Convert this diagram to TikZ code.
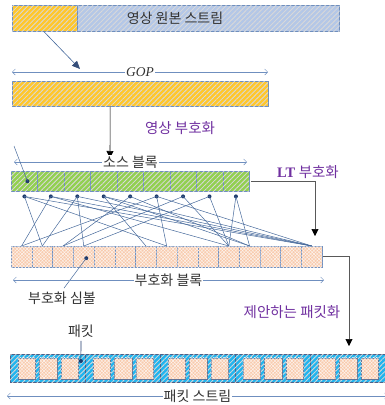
\documentclass[tikz,border=0pt]{standalone}
\usepackage{fontspec}
\setmainfont{Liberation Serif}
\newfontfamily\krfont{Noto Sans CJK KR}
\usetikzlibrary{arrows.meta,patterns.meta}
\definecolor{bordblue}{HTML}{6F8FBF}
\definecolor{linkblue}{HTML}{46699B}
\definecolor{dotnavy}{HTML}{1F3A6B}
\definecolor{gopyellow}{HTML}{FFC72C}
\definecolor{srcblue}{HTML}{B4C7E7}
\definecolor{lgreen}{HTML}{92D050}
\definecolor{lorange}{HTML}{F8CBAD}
\definecolor{pcyan}{HTML}{22B4EE}
\definecolor{kpurple}{HTML}{7030A0}
\tikzstyle{hatch} = [postaction={pattern={Lines[angle=45,distance=3.5pt,line width=0.8pt]}, pattern color=white!85!black}]
\tikzstyle{yellowbox} = [draw=bordblue, fill=gopyellow, hatch, anchor=north west, inner sep=0pt]
\tikzstyle{bluebox} = [draw=bordblue, fill=srcblue, hatch, anchor=north west, inner sep=0pt]
\tikzstyle{greencell} = [draw=bordblue, fill=lgreen, hatch, anchor=north west, minimum width=26.44pt, minimum height=20pt, inner sep=0pt]
\tikzstyle{orangecell} = [draw=bordblue, fill=lorange, anchor=north west, inner sep=0pt,
    postaction={pattern={Lines[angle=45,distance=2.4pt,line width=0.4pt]}, pattern color=white!85!lorange},
    postaction={pattern={Lines[angle=-45,distance=2.4pt,line width=0.4pt]}, pattern color=white!85!lorange}]
\tikzstyle{pktbox} = [draw=dotnavy!80, fill=pcyan, hatch, anchor=north west, minimum width=75pt, minimum height=28pt, inner sep=0pt]
\tikzstyle{dot} = [circle, fill=dotnavy, minimum size=4pt, inner sep=0pt]
\tikzstyle{link} = [draw=linkblue, line width=0.5pt]
\tikzstyle{dimline} = [draw=bordblue, line width=0.5pt, {Straight Barb[length=3pt,width=6pt]}-{Straight Barb[length=3pt,width=6pt]}]
\tikzstyle{dimlbl} = [fill=white, inner sep=1pt, text=black!80]
\tikzstyle{kr} = [font=\krfont\fontsize{14}{16}\selectfont, text=black!80]
\tikzstyle{purplelbl} = [font=\krfont\fontsize{14.5}{16}\selectfont, text=kpurple]
\tikzstyle{ctrarrow} = [draw=black!65, line width=0.6pt, -{Triangle[length=7pt,width=7pt,black]}]

\begin{document}
\begin{tikzpicture}[x=1pt, y=-1pt]
    \useasboundingbox (0,0) rectangle (385,405);
    % original stream
    \node[yellowbox, minimum width=65pt, minimum height=26pt] (src1) at (12,5) {};
    \node[bluebox, minimum width=262pt, minimum height=26pt] (src2) at (src1.north east) {};
    \node[kr] (srclbl) at (175,18) {영상 원본 스트림};
    \coordinate (gopin) at (80,69);
    \draw[draw=linkblue, line width=0.6pt, -{Triangle[length=8pt,width=7pt,dotnavy!90]}] ([xshift=-1pt]src1.south) -- (gopin);
    % GOP
    \coordinate (gopL) at (12,72);
    \coordinate (gopR) at (268,72);
    \draw[dimline] (gopL) -- node[dimlbl, font=\fontsize{13.5}{15}\selectfont\itshape] {GOP} (gopR);
    \node[yellowbox, minimum width=256pt, minimum height=25pt] (gop) at (12,81) {};
    \coordinate (encin) at (110,158);
    \draw[ctrarrow, draw=black] ([xshift=-30pt]gop.south) -- (encin);
    \node[purplelbl] (enclbl) at (180,128) {영상 부호화};
    % source block
    \coordinate (sbL) at (14,162);
    \coordinate (sbR) at (247,162);
    \draw[dimline] (sbL) -- node[dimlbl, kr] {소스 블록} (sbR);
    \foreach \i in {1,...,9}
        \node[greencell] (s\i) at ({11+26.44*(\i-1)},171) {};
    \node[dot] (srcdot) at ([xshift=3pt]s1.center) {};
    \coordinate (srcptr) at (14,146);
    \draw[link] (srcptr) -- (srcdot.center);
    \foreach \i in {1,...,9}
        \node[dot] (d\i) at ([yshift=-5pt]s\i.south) {};
    \node[purplelbl] (ltlbl) at (308,172) {\rmfamily\bfseries LT \krfont\mdseries 부호화};
    % coded block
    \foreach \j in {1,...,15}
        \node[orangecell, minimum width=20.73pt, minimum height=21pt] (c\j) at ({11+20.73*(\j-1)},246) {};
    \foreach \a/\b in {1/2, 1/8, 1/15, 2/1, 2/11, 2/15, 3/2, 3/4, 3/15, 4/7, 4/12, 4/15,
                       5/3, 5/12, 6/1, 6/8, 6/15, 7/3, 7/11, 8/4, 8/11, 9/11, 9/12}
        \draw[link] (d\a.center) -- (c\b.north);
    \coordinate (ltin) at (315,236);
    \draw[ctrarrow] ([xshift=2pt]s9.east) -| (ltin);
    \node[dot] (symdot) at ([xshift=2.5pt,yshift=-1.5pt]c4.center) {};
    \node[kr] (symlbl) at (62,298) {부호화 심볼};
    \draw[link] (symdot.center) -- ([xshift=2pt]symlbl.north);
    \coordinate (cbL) at (13,280);
    \coordinate (cbR) at (324,280);
    \draw[dimline] (cbL) -- node[dimlbl, kr] {부호화 블록} (cbR);
    % packetization
    \coordinate (pktin) at (349,346);
    \draw[ctrarrow] ([xshift=1pt]c15.east) -| (pktin);
    \node[purplelbl] (pktzlbl) at (292,312) {제안하는 패킷화};
    \foreach \i in {1,...,5} {
        \node[pktbox] (p\i) at ({10+75*(\i-1)},354) {};
        \foreach \k in {1,2,3}
            \node[orangecell, draw=dotnavy!70, minimum width=17.6pt, minimum height=21pt, anchor=west]
                (q\i\k) at ([xshift={7.7pt+21.5pt*(\k-1)}]p\i.west) {};
    }
    \node[kr] (pktlbl) at (81,331) {패킷};
    \node[dot] (pktdot) at ([xshift=-4.5pt,yshift=-7pt]p1.north east) {};
    \draw[draw=dotnavy, line width=0.6pt] (pktlbl.south) -- (pktdot.center);
    \coordinate (psL) at (7,396);
    \coordinate (psR) at (388,396);
    \draw[dimline] (psL) -- node[dimlbl, kr] {패킷 스트림} (psR);
\end{tikzpicture}
\end{document}
